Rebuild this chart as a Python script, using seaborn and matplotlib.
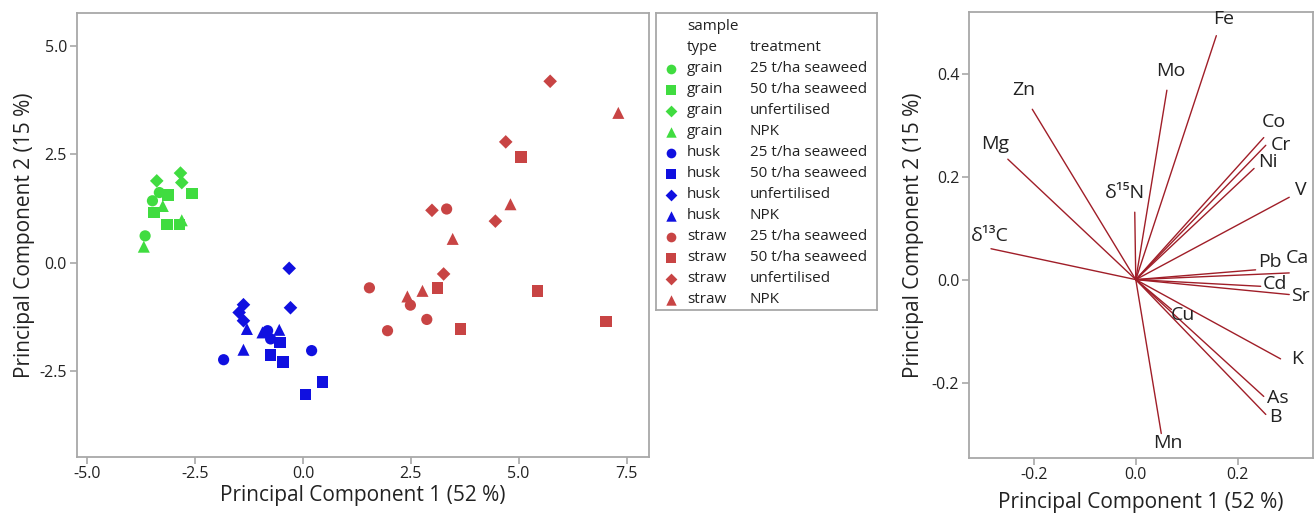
import numpy as np
import pandas as pd
import matplotlib
matplotlib.use("Agg")
import matplotlib.pyplot as plt
import seaborn as sns

# scores (PC1, PC2) per sample type and treatment
types = ["grain", "husk", "straw"]
treatments = ["25 t/ha seaweed", "50 t/ha seaweed", "unfertilised", "NPK"]

grain_25_pc1 = [-3.66, -3.49, -3.33]
grain_25_pc2 = [0.62, 1.43, 1.62]
grain_50_pc1 = [-2.58, -3.13, -3.46, -3.15, -2.86]
grain_50_pc2 = [1.60, 1.56, 1.16, 0.88, 0.88]
grain_unf_pc1 = [-3.39, -2.84, -2.81]
grain_unf_pc2 = [1.89, 2.07, 1.85]
grain_npk_pc1 = [-3.69, -2.81, -3.25]
grain_npk_pc2 = [0.37, 0.98, 1.31]

husk_25_pc1 = [-1.84, 0.20, -0.82, -0.75]
husk_25_pc2 = [-2.24, -2.03, -1.57, -1.76]
husk_50_pc1 = [-0.53, -0.75, -0.47, 0.45, 0.06]
husk_50_pc2 = [-1.84, -2.13, -2.30, -2.76, -3.04]
husk_unf_pc1 = [-0.32, -0.29, -1.38, -1.48, -1.38]
husk_unf_pc2 = [-0.13, -1.04, -0.97, -1.15, -1.34]
husk_npk_pc1 = [-1.30, -1.38, -0.55, -0.94]
husk_npk_pc2 = [-1.53, -2.01, -1.55, -1.61]

straw_25_pc1 = [3.33, 1.54, 2.49, 2.87, 1.96]
straw_25_pc2 = [1.24, -0.58, -0.98, -1.31, -1.57]
straw_50_pc1 = [5.06, 3.12, 5.44, 3.65, 7.03]
straw_50_pc2 = [2.44, -0.58, -0.65, -1.53, -1.36]
straw_unf_pc1 = [5.73, 4.70, 2.99, 4.46, 3.26]
straw_unf_pc2 = [4.19, 2.79, 1.21, 0.96, -0.26]
straw_npk_pc1 = [7.31, 4.81, 3.47, 2.77, 2.42]
straw_npk_pc2 = [3.46, 1.35, 0.55, -0.65, -0.78]

# loadings
variables = ["Fe", "Mo", "Zn", "Mg", "δ¹⁵N", "δ¹³C", "Co", "Cr", "Ni", "V",
             "Pb", "Ca", "Cd", "Sr", "Cu", "K", "As", "B", "Mn"]
load_pc1 = [0.158, 0.061, -0.203, -0.251, -0.002, -0.284, 0.251, 0.255, 0.232, 0.301,
            0.235, 0.301, 0.245, 0.301, 0.070, 0.284, 0.251, 0.255, 0.050]
load_pc2 = [0.474, 0.368, 0.331, 0.234, 0.131, 0.060, 0.276, 0.261, 0.216, 0.160,
            0.019, 0.013, -0.013, -0.029, -0.058, -0.154, -0.227, -0.262, -0.299]
# label offsets in points (dx, dy) from line end
label_dx = [5, 3, -6, -9, -7, -1, 7, 11, 10, 8, 10, 6, 10, 8, 8, 12, 10, 7, 5]
label_dy = [12, 14, 14, 11, 14, 9, 11, 0, 5, 5, 6, 11, 2, -1, -4, 0, -1, -2, -7]

groups = {
    ("grain", "25 t/ha seaweed"): (grain_25_pc1, grain_25_pc2),
    ("grain", "50 t/ha seaweed"): (grain_50_pc1, grain_50_pc2),
    ("grain", "unfertilised"): (grain_unf_pc1, grain_unf_pc2),
    ("grain", "NPK"): (grain_npk_pc1, grain_npk_pc2),
    ("husk", "25 t/ha seaweed"): (husk_25_pc1, husk_25_pc2),
    ("husk", "50 t/ha seaweed"): (husk_50_pc1, husk_50_pc2),
    ("husk", "unfertilised"): (husk_unf_pc1, husk_unf_pc2),
    ("husk", "NPK"): (husk_npk_pc1, husk_npk_pc2),
    ("straw", "25 t/ha seaweed"): (straw_25_pc1, straw_25_pc2),
    ("straw", "50 t/ha seaweed"): (straw_50_pc1, straw_50_pc2),
    ("straw", "unfertilised"): (straw_unf_pc1, straw_unf_pc2),
    ("straw", "NPK"): (straw_npk_pc1, straw_npk_pc2),
}
rows = []
for (t, tr), (xs, ys) in groups.items():
    for x, y in zip(xs, ys):
        rows.append({"type": t, "treatment": tr, "pc1": x, "pc2": y})
scores = pd.DataFrame(rows)

palette = {"grain": "#40dc40", "husk": "#1010e0", "straw": "#c84444"}
markers = {"25 t/ha seaweed": "o", "50 t/ha seaweed": "s", "unfertilised": "D", "NPK": "^"}
msizes = {"o": 65, "s": 70, "D": 48, "^": 75}

sns.set_style("white")
plt.rcParams["font.family"] = ["Open Sans", "Noto Sans", "DejaVu Sans"]
gray = "#a8a8a8"
txt = "#222222"

fig = plt.figure(figsize=(13.14, 5.15), dpi=100)
ax1 = fig.add_axes([0.0584, 0.1132, 0.4358, 0.861])
axl = fig.add_axes([0.4992, 0.398, 0.1682, 0.5768])
ax2 = fig.add_axes([0.7375, 0.1113, 0.2615, 0.8654])

# score plot
for m, sz in msizes.items():
    sub = scores[scores["treatment"].map(markers) == m]
    sns.scatterplot(data=sub, x="pc1", y="pc2", hue="type", palette=palette,
                    marker=m, s=sz, linewidth=0, legend=False, ax=ax1)
ax1.set_xlim(-5.245, 8.03)
ax1.set_ylim(-4.48, 5.76)
ax1.set_xticks([-5.0, -2.5, 0.0, 2.5, 5.0, 7.5])
ax1.set_yticks([-2.5, 0.0, 2.5, 5.0])
ax1.xaxis.set_major_formatter(matplotlib.ticker.FormatStrFormatter("%.1f"))
ax1.yaxis.set_major_formatter(matplotlib.ticker.FormatStrFormatter("%.1f"))
ax1.set_xlabel("Principal Component 1 (52 %)", fontsize=15, color=txt, labelpad=2)
ax1.set_ylabel("Principal Component 2 (15 %)", fontsize=15, color=txt, labelpad=3)

# legend panel
axl.set_xlim(0, 1)
axl.set_ylim(0, 1)
axl.set_xticks([])
axl.set_yticks([])
n_rows = 14
row_h = 1.0 / n_rows
def row_y(i):
    return 1 - (i + 0.65) * row_h * 0.99
fs_leg = 11
axl.text(0.14, row_y(0), "sample", fontsize=fs_leg, va="center", color=txt)
axl.text(0.14, row_y(1), "type", fontsize=fs_leg, va="center", color=txt)
axl.text(0.425, row_y(1), "treatment", fontsize=fs_leg, va="center", color=txt)
i = 2
for t in types:
    for tr in treatments:
        m = markers[tr]
        axl.scatter([0.07], [row_y(i)], marker=m, s=msizes[m] * 0.75,
                    color=palette[t], linewidth=0)
        axl.text(0.14, row_y(i), t, fontsize=fs_leg, va="center", color=txt)
        axl.text(0.425, row_y(i), tr, fontsize=fs_leg, va="center", color=txt)
        i += 1

# loadings plot
for v, x, y, dx, dy in zip(variables, load_pc1, load_pc2, label_dx, label_dy):
    ax2.plot([0, x], [0, y], color="#a01e28", linewidth=1)
    ax2.annotate(v, (x, y), xytext=(dx, dy), textcoords="offset points",
                 ha="center", va="center", fontsize=14, color=txt)
ax2.set_xlim(-0.327, 0.347)
ax2.set_ylim(-0.346, 0.520)
ax2.set_xticks([-0.2, 0.0, 0.2])
ax2.set_yticks([-0.2, 0.0, 0.2, 0.4])
ax2.xaxis.set_major_formatter(matplotlib.ticker.FormatStrFormatter("%.1f"))
ax2.yaxis.set_major_formatter(matplotlib.ticker.FormatStrFormatter("%.1f"))
ax2.set_xlabel("Principal Component 1 (52 %)", fontsize=15, color=txt, labelpad=6)
ax2.set_ylabel("Principal Component 2 (15 %)", fontsize=15, color=txt, labelpad=6)

for ax in (ax1, axl, ax2):
    for sp in ax.spines.values():
        sp.set_color(gray)
        sp.set_linewidth(1.3)
for ax in (ax1, ax2):
    ax.tick_params(axis="both", which="major", direction="out", length=5, width=1.2,
                   color=gray, labelsize=11.5, labelcolor=txt, bottom=True, left=True,
                   pad=2)

fig.savefig("out.png", dpi=100)
